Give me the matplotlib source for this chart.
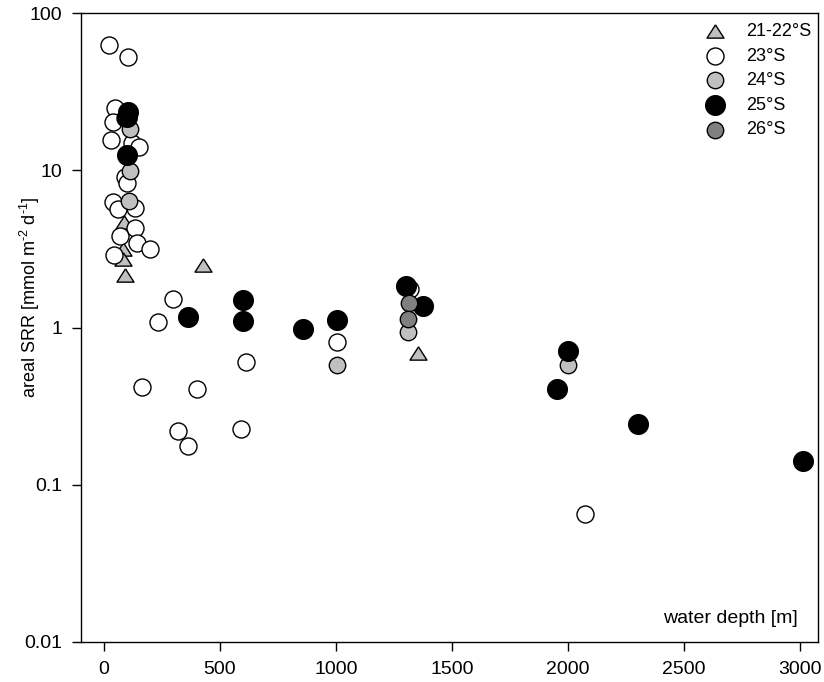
import matplotlib
matplotlib.use("Agg")
import matplotlib.pyplot as plt
from matplotlib.ticker import FuncFormatter, NullLocator, FixedLocator

plt.rcParams["font.family"] = ["Liberation Sans", "DejaVu Sans"]
plt.rcParams["mathtext.fontset"] = "custom"
plt.rcParams["mathtext.rm"] = "Liberation Sans"
plt.rcParams["mathtext.it"] = "Liberation Sans:italic"

# water depth [m] and areal SRR [mmol m-2 d-1] per latitude group
depth_21_22 = [80, 88, 83, 90, 425, 1352]
srr_21_22 = [3.15, 4.7, 2.72, 2.16, 2.5, 0.69]

depth_23 = [23, 105, 47, 40, 90, 29, 119, 152, 90, 98, 37, 62, 134, 134, 69,
            141, 198, 43, 299, 234, 162, 400, 320, 361, 589, 611, 1003, 1319, 2073]
srr_23 = [62.6, 52.7, 24.8, 20.4, 21.4, 15.6, 14.8, 14.0, 9.1, 8.26, 6.3, 5.65,
          5.73, 4.27, 3.82, 3.46, 3.14, 2.89, 1.51, 1.09, 0.42, 0.405, 0.221,
          0.176, 0.225, 0.606, 0.81, 1.75, 0.065]

depth_24 = [112, 112, 108, 1003, 1309, 2001]
srr_24 = [18.2, 9.94, 6.37, 0.578, 0.94, 0.577]

depth_25 = [105, 100, 98, 363, 600, 600, 856, 1003, 1302, 1374, 2001, 1955, 2300, 3014]
srr_25 = [23.6, 21.8, 12.5, 1.17, 1.50, 1.10, 0.975, 1.11, 1.84, 1.37, 0.71, 0.405, 0.242, 0.142]

depth_26 = [1315, 1312]
srr_26 = [1.43, 1.13]

x_ticks = [0, 500, 1000, 1500, 2000, 2500, 3000]
y_ticks = [0.01, 0.1, 1, 10, 100]

# slightly flattened triangle like the original symbol
tri = [(0, 0.78), (-1, -0.78), (1, -0.78), (0, 0.78)]

fig = plt.figure(figsize=(8.24, 6.82), dpi=100)
ax = fig.add_axes([81 / 824, 40 / 682, 737 / 824, 629 / 682])

ax.scatter(depth_21_22, srr_21_22, marker=tri, s=150, c="#c0c0c0",
           edgecolors="black", linewidths=1.0, zorder=2, label="21-22°S")
ax.scatter(depth_23, srr_23, marker="o", s=150, c="white",
           edgecolors="black", linewidths=1.0, zorder=3, label="23°S")
ax.scatter(depth_24, srr_24, marker="o", s=140, c="#c0c0c0",
           edgecolors="black", linewidths=1.0, zorder=4, label="24°S")
ax.scatter(depth_25, srr_25, marker="o", s=200, c="black",
           edgecolors="black", linewidths=1.0, zorder=5, label="25°S")
ax.scatter(depth_26, srr_26, marker="o", s=140, c="#808080",
           edgecolors="black", linewidths=1.0, zorder=6, label="26°S")

ax.set_yscale("log")
ax.set_ylim(0.01, 100)
ax.set_xlim(-99, 3078)
ax.xaxis.set_major_locator(FixedLocator(x_ticks))
ax.yaxis.set_major_locator(FixedLocator(y_ticks))
ax.yaxis.set_minor_locator(NullLocator())
ax.yaxis.set_major_formatter(FuncFormatter(lambda v, p: f"{v:g}"))

for side in ax.spines.values():
    side.set_linewidth(1.0)
ax.tick_params(axis="both", direction="out", length=6.5, width=1.0,
               labelsize=14, pad=7)

ax.set_ylabel("areal SRR [mmol m$^{\u2010 2}$ d$^{\u2010 1}$]", fontsize=13, va="center")
ax.yaxis.set_label_coords(-0.069, 0.548)
ax.set_xlabel("water depth [m]", fontsize=14, ha="right", va="center")
ax.xaxis.set_label_coords(0.973, 0.038)

ax.legend(loc="upper left", bbox_to_anchor=(0.848, 0.984), frameon=False,
          fontsize=13, borderpad=0, handlelength=1.0, handletextpad=1.2,
          labelspacing=0.42, borderaxespad=0)

fig.savefig("out.png", dpi=100)
